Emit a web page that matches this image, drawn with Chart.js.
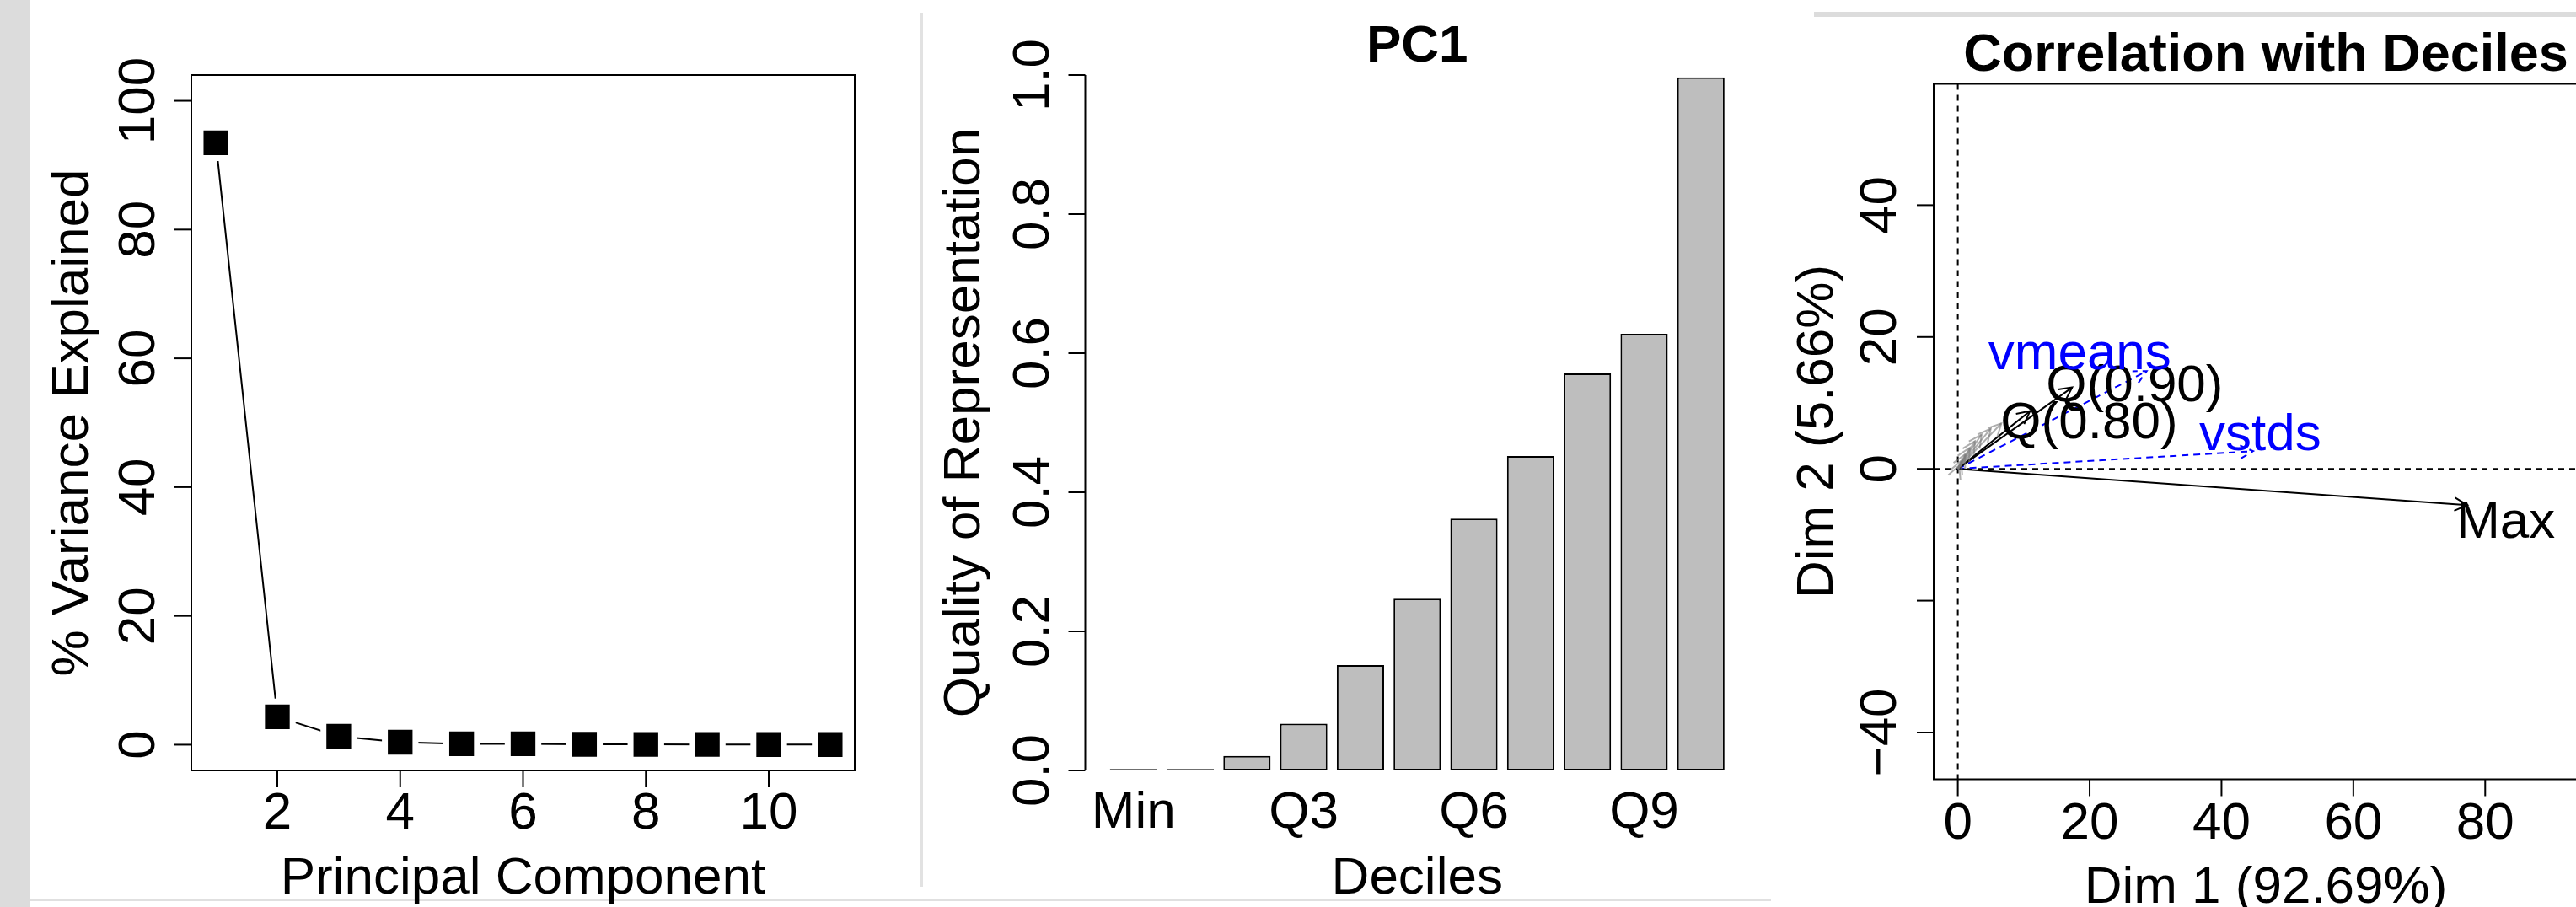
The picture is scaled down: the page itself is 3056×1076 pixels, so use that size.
<!DOCTYPE html>
<html><head><meta charset="utf-8">
<script src="https://cdn.jsdelivr.net/npm/chart.js@4.4.0/dist/chart.umd.min.js"></script>
<style>
html,body{margin:0;padding:0;overflow:hidden;background:#fff;}
#wrap{position:relative;width:3056px;height:1076px;overflow:hidden;background:#fff;}
canvas{position:absolute;left:0;top:0;}
.deco{position:absolute;}
</style></head><body>
<div id="wrap">
<div class="deco" style="left:0;top:0;width:35px;height:1076px;background:#dcdcdc"></div>
<div class="deco" style="left:1092px;top:16px;width:3px;height:1036px;background:#e2e2e2"></div>
<div class="deco" style="left:35px;top:1066px;width:2066px;height:3px;background:#e0e0e0"></div>
<div class="deco" style="left:2152px;top:14px;width:904px;height:6px;background:#dcdcdc"></div>
<canvas id="c1" width="3056" height="1076" style="width:3056px;height:1076px"></canvas>
<canvas id="c2" width="3056" height="1076" style="width:3056px;height:1076px"></canvas>
<canvas id="c3" width="3100" height="1076" style="width:3100px;height:1076px"></canvas>
</div>
<script>
// ---------------- DATA ----------------
// Panel 1: scree plot
const pcNumbers = [1, 2, 3, 4, 5, 6, 7, 8, 9, 10, 11];
const pctVariance = [93.47, 4.33, 1.31, 0.39, 0.13, 0.13, 0.06, 0.05, 0.04, 0.03, 0.02];
const p1XTicks = [2, 4, 6, 8, 10];
const p1YTicks = [0, 20, 40, 60, 80, 100];

// Panel 2: quality of representation on PC1
const deciles = ['Min', 'Q1', 'Q2', 'Q3', 'Q4', 'Q5', 'Q6', 'Q7', 'Q8', 'Q9', 'Max'];
const quality = [0.002, 0.002, 0.0208, 0.0674, 0.1514, 0.247, 0.362, 0.452, 0.571, 0.628, 0.9967];
const p2ShownLabels = ['Min', 'Q3', 'Q6', 'Q9'];
const p2YTicks = [0, 0.2, 0.4, 0.6, 0.8, 1.0];

// Panel 3: variables factor map
const varNames = ['Min', 'Q(0.10)', 'Q(0.20)', 'Q(0.30)', 'Q(0.40)', 'Q(0.50)', 'Q(0.60)', 'Q(0.70)', 'Q(0.80)', 'Q(0.90)', 'Max'];
const varDim1 = [0.2, 0.5, 1.1, 1.8, 2.6, 3.6, 5.0, 6.6, 10.96, 17.35, 77.3];
const varDim2 = [0.5, 1.2, 2.2, 3.2, 4.2, 5.2, 6.1, 6.9, 8.77, 12.35, -5.5];
const labelledVars = ['Q(0.80)', 'Q(0.90)', 'Max'];
const supNames = ['vmeans', 'vstds'];
const supDim1 = [28.66, 44.8];
const supDim2 = [14.82, 2.68];
const p3XTicks = [0, 20, 40, 60, 80, 100];
const p3YTicks = [-40, -20, 0, 20, 40];
const p3YTickLabels = ['\u221240', '', '0', '20', '40'];

// ---------------- STYLE / LAYOUT ----------------
const FONT = '"Liberation Sans", Arial, Helvetica, sans-serif';
const FS = 62;
const W = 3056, H = 1076;
const TL = 20; // tick length
const labelOffsets = { // pixel offsets of label (left, baseline) from arrow tip
  'Max': [-13, 39], 'Q(0.90)': [-31, 16], 'Q(0.80)': [-35, 32],
  'vmeans': [-188, -2], 'vstds': [-64, -1]
};

function line(ctx, x1, y1, x2, y2) { ctx.beginPath(); ctx.moveTo(x1, y1); ctx.lineTo(x2, y2); ctx.stroke(); }
function rotText(ctx, text, x, y) {
  ctx.save(); ctx.translate(x, y); ctx.rotate(-Math.PI / 2);
  ctx.textAlign = 'center'; ctx.textBaseline = 'alphabetic'; ctx.fillText(text, 0, 0); ctx.restore();
}
function hText(ctx, text, x, y, align) {
  ctx.textAlign = align || 'center'; ctx.textBaseline = 'alphabetic'; ctx.fillText(text, x, y);
}
const baseOpts = (pad, xr, yr) => ({
  responsive: false, animation: false, devicePixelRatio: 1,
  layout: { padding: pad },
  plugins: { legend: { display: false }, tooltip: { enabled: false } },
  events: [],
  scales: {
    x: { type: 'linear', min: xr[0], max: xr[1], display: false, offset: false },
    y: { type: 'linear', min: yr[0], max: yr[1], display: false, offset: false }
  }
});

// ---------------- PANEL 1 ----------------
const p1Axes = {
  id: 'p1Axes',
  afterDraw(chart) {
    const ctx = chart.ctx, a = chart.chartArea, xs = chart.scales.x, ys = chart.scales.y;
    ctx.save();
    ctx.strokeStyle = '#000'; ctx.fillStyle = '#000'; ctx.lineWidth = 2;
    ctx.strokeRect(a.left, a.top, a.right - a.left, a.bottom - a.top);
    ctx.font = FS + 'px ' + FONT;
    p1XTicks.forEach(v => {
      const px = xs.getPixelForValue(v);
      line(ctx, px, a.bottom, px, a.bottom + TL);
      hText(ctx, String(v), px, a.bottom + 69);
    });
    p1YTicks.forEach(v => {
      const py = ys.getPixelForValue(v);
      line(ctx, a.left, py, a.left - TL, py);
      rotText(ctx, String(v), a.left - 44, py);
    });
    hText(ctx, 'Principal Component', (a.left + a.right) / 2, a.bottom + 146);
    rotText(ctx, '% Variance Explained', a.left - 123, (a.top + a.bottom) / 2);
    ctx.restore();
  }
};
new Chart(document.getElementById('c1'), {
  type: 'line',
  data: { datasets: [{
    data: pcNumbers.map((n, i) => ({ x: n, y: pctVariance[i] })),
    borderColor: '#000', borderWidth: 2, tension: 0, fill: false,
    pointStyle: 'rect', pointRadius: 25.7, pointBackgroundColor: '#000',
    pointBorderColor: '#fff', pointBorderWidth: 7
  }] },
  options: baseOpts({ left: 227, top: 89, right: W - 1014, bottom: H - 914 }, [0.6, 11.4], [-4, 104]),
  plugins: [p1Axes]
});

// ---------------- PANEL 2 ----------------
const barCenter = i => 0.7 + 1.2 * i; // barplot: width 1, space 0.2
const p2Axes = {
  id: 'p2Axes',
  afterDraw(chart) {
    const ctx = chart.ctx, a = chart.chartArea, xs = chart.scales.x, ys = chart.scales.y;
    ctx.save();
    ctx.strokeStyle = '#000'; ctx.fillStyle = '#000'; ctx.lineWidth = 2;
    ctx.font = FS + 'px ' + FONT;
    line(ctx, a.left, ys.getPixelForValue(p2YTicks[0]), a.left, ys.getPixelForValue(p2YTicks[p2YTicks.length - 1]));
    p2YTicks.forEach(v => {
      const py = ys.getPixelForValue(v);
      line(ctx, a.left, py, a.left - TL, py);
      rotText(ctx, v.toFixed(1), a.left - 44, py);
    });
    p2ShownLabels.forEach(lab => {
      const px = xs.getPixelForValue(barCenter(deciles.indexOf(lab)));
      hText(ctx, lab, px, a.bottom + 68);
    });
    hText(ctx, 'Deciles', (a.left + a.right) / 2, a.bottom + 146);
    rotText(ctx, 'Quality of Representation', a.left - 126, (a.top + a.bottom) / 2);
    ctx.font = 'bold ' + FS + 'px ' + FONT;
    hText(ctx, 'PC1', (a.left + a.right) / 2, a.top - 15.6);
    ctx.restore();
  }
};
new Chart(document.getElementById('c2'), {
  type: 'bar',
  data: { datasets: [{
    data: deciles.map((d, i) => ({ x: barCenter(i), y: quality[i] })),
    backgroundColor: '#bebebe', borderColor: '#000', borderWidth: 2, borderSkipped: false,
    categoryPercentage: 1, barPercentage: 1 / 1.2
  }] },
  options: baseOpts({ left: 1287.5, top: 89, right: W - 2075, bottom: H - 914 }, [-0.32, 13.72], [0, 1]),
  plugins: [p2Axes]
});

// ---------------- PANEL 3 ----------------
const p3Decor = {
  id: 'p3Decor',
  beforeDatasetsDraw(chart) {
    const ctx = chart.ctx, a = chart.chartArea, xs = chart.scales.x, ys = chart.scales.y;
    ctx.save();
    ctx.strokeStyle = '#000'; ctx.lineWidth = 2; ctx.setLineDash([7, 6]);
    const x0 = xs.getPixelForValue(0), y0 = ys.getPixelForValue(0);
    line(ctx, x0, a.top, x0, a.bottom);
    line(ctx, a.left, y0, a.right, y0);
    ctx.restore();
  },
  afterDatasetsDraw(chart) {
    const ctx = chart.ctx;
    chart.data.datasets.forEach((ds, di) => {
      const meta = chart.getDatasetMeta(di);
      const p0 = meta.data[0], p1 = meta.data[1];
      const ang = Math.atan2(p1.y - p0.y, p1.x - p0.x);
      const hl = 17, ha = 27 * Math.PI / 180;
      ctx.save();
      ctx.strokeStyle = ds.borderColor; ctx.lineWidth = ds.borderWidth;
      ctx.setLineDash(ds.borderDash || []);
      ctx.beginPath();
      ctx.moveTo(p1.x - hl * Math.cos(ang - ha), p1.y - hl * Math.sin(ang - ha));
      ctx.lineTo(p1.x, p1.y);
      ctx.lineTo(p1.x - hl * Math.cos(ang + ha), p1.y - hl * Math.sin(ang + ha));
      ctx.stroke();
      ctx.restore();
      if (ds.labelText) {
        const off = labelOffsets[ds.labelText];
        ctx.save();
        ctx.fillStyle = ds.labelColor; ctx.font = FS + 'px ' + FONT;
        hText(ctx, ds.labelText, p1.x + off[0], p1.y + off[1], 'left');
        ctx.restore();
      }
    });
  },
  afterDraw(chart) {
    const ctx = chart.ctx, a = chart.chartArea, xs = chart.scales.x, ys = chart.scales.y;
    ctx.save();
    ctx.strokeStyle = '#000'; ctx.fillStyle = '#000'; ctx.lineWidth = 2;
    ctx.strokeRect(a.left, a.top, a.right - a.left, a.bottom - a.top);
    ctx.font = FS + 'px ' + FONT;
    p3XTicks.forEach(v => {
      if (v > xs.max) return;
      const px = xs.getPixelForValue(v);
      line(ctx, px, a.bottom, px, a.bottom + TL);
      hText(ctx, String(v), px, a.bottom + 70);
    });
    p3YTicks.forEach((v, i) => {
      const py = ys.getPixelForValue(v);
      line(ctx, a.left, py, a.left - TL, py);
      if (p3YTickLabels[i]) rotText(ctx, p3YTickLabels[i], a.left - 44.6, py);
    });
    hText(ctx, 'Dim 1 (92.69%)', (a.left + a.right) / 2, a.bottom + 146);
    rotText(ctx, 'Dim 2 (5.66%)', a.left - 120, (a.top + a.bottom) / 2);
    ctx.font = 'bold 63px ' + FONT;
    hText(ctx, 'Correlation with Deciles', (a.left + a.right) / 2, a.top - 15.8);
    ctx.restore();
  }
};
const p3Datasets = [];
varNames.forEach((n, i) => {
  const lab = labelledVars.includes(n);
  p3Datasets.push({
    data: [{ x: 0, y: 0 }, { x: varDim1[i], y: varDim2[i] }],
    showLine: true, pointRadius: 0, borderWidth: 2,
    borderColor: lab ? '#000' : 'rgba(120,120,120,0.6)',
    labelText: lab ? n : null, labelColor: '#000'
  });
});
supNames.forEach((n, i) => {
  p3Datasets.push({
    data: [{ x: 0, y: 0 }, { x: supDim1[i], y: supDim2[i] }],
    showLine: true, pointRadius: 0, borderWidth: 2, borderDash: [8, 6],
    borderColor: '#0000ff', labelText: n, labelColor: '#0000ff'
  });
});
new Chart(document.getElementById('c3'), {
  type: 'scatter',
  data: { datasets: p3Datasets },
  options: baseOpts({ left: 2294, top: 99.5, right: 3100 - 3082, bottom: H - 924.5 }, [-3.66, 97.1], [-47.1, 58.4]),
  plugins: [p3Decor]
});
</script>
</body></html>
